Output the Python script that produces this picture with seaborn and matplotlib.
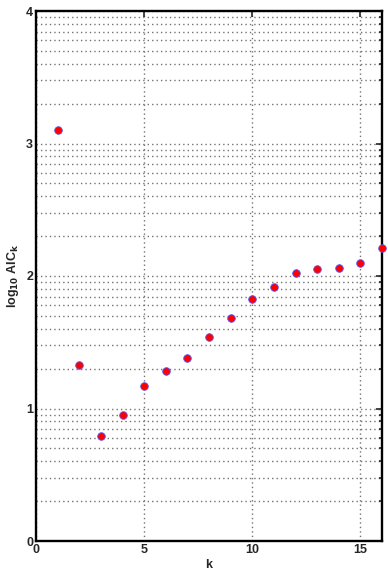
import numpy as np
import pandas as pd
import matplotlib
matplotlib.use("Agg")
import matplotlib.pyplot as plt
import seaborn as sns
from matplotlib.ticker import FixedLocator

# data
k = [1, 2, 3, 4, 5, 6, 7, 8, 9, 10, 11, 12, 13, 14, 15, 16]
log_aic = [3.10, 1.33, 0.79, 0.95, 1.17, 1.28, 1.38, 1.54, 1.68, 1.83,
           1.92, 2.02, 2.05, 2.06, 2.10, 2.21]
x_ticks = [0, 5, 10, 15]
y_ticks = [0, 1, 2, 3, 4]

df = pd.DataFrame({"k": k, "log_aic": log_aic})

sns.set_style("white")
plt.rcParams["font.family"] = ["Liberation Sans", "DejaVu Sans"]
plt.rcParams["mathtext.default"] = "bf"

fig = plt.figure(figsize=(3.88, 5.74), dpi=100)
ax = fig.add_axes([36 / 388, 1 - 541 / 574, 346 / 388, 530 / 574])

# log-style minor positions inside each decade
minor_y = [n + np.log10(m) for n in range(4) for m in range(2, 10)]

ax.set_xlim(0, 16)
ax.set_ylim(0, 4)
ax.xaxis.set_major_locator(FixedLocator(x_ticks))
ax.yaxis.set_major_locator(FixedLocator(y_ticks))
ax.yaxis.set_minor_locator(FixedLocator(minor_y))

grid_kw = dict(linestyle=(0, (1, 2.2)), color="0.45", linewidth=1.0)
ax.grid(True, which="major", axis="both", **grid_kw)
ax.grid(True, which="minor", axis="y", **grid_kw)
ax.set_axisbelow(True)

sns.scatterplot(data=df, x="k", y="log_aic", ax=ax, color="red", edgecolor="#5555ff",
                linewidth=0.6, s=30, zorder=3, clip_on=False)

for s in ax.spines.values():
    s.set_linewidth(1.7)
    s.set_color("black")

ax.tick_params(which="both", direction="in", top=True, right=True, width=1.2)
ax.tick_params(which="major", length=4, labelsize=9, pad=2)
ax.tick_params(which="minor", length=2)
for lab in ax.get_xticklabels() + ax.get_yticklabels():
    lab.set_fontweight("bold")

ax.set_xlabel("k", fontsize=9, fontweight="bold", labelpad=2)
ax.set_ylabel("log$_{10}$ AIC$_k$", fontsize=9, fontweight="bold", labelpad=4)

fig.savefig("out.png", dpi=100)
